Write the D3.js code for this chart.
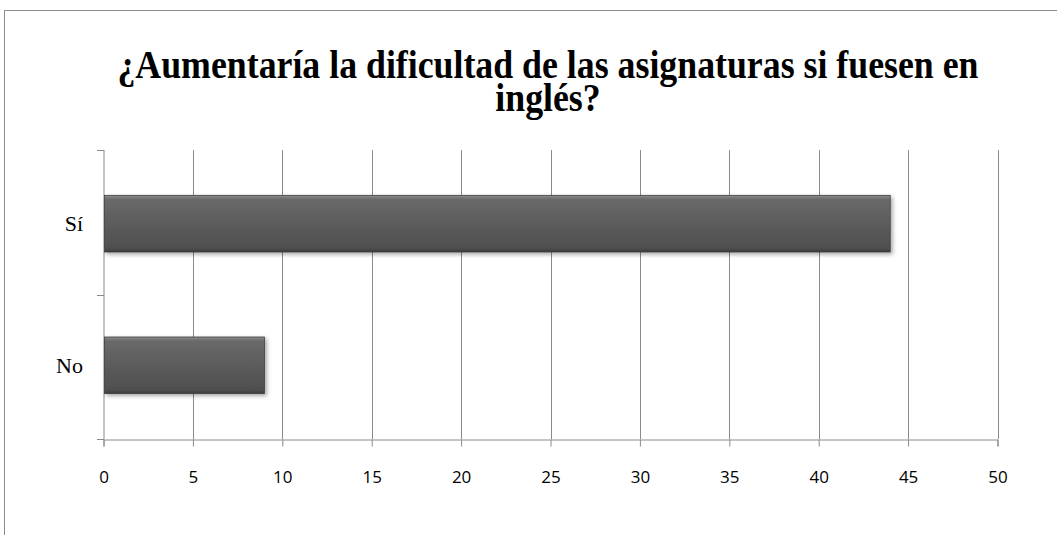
<!DOCTYPE html>
<html><head><meta charset="utf-8">
<script src="https://cdn.jsdelivr.net/npm/d3@7"></script>
<style>html,body{margin:0;padding:0;background:#fff;overflow:hidden}
.title{font-family:'Liberation Serif', serif;font-weight:bold}
.ylab{font-family:'Liberation Serif', serif}
.xlab{font-family:'Open Sans', sans-serif}
</style>
</head><body>
<svg id="chart" width="1057" height="535"></svg>
<script>
const categories = ["Sí", "No"];
const values = [44, 9];
const xTicks = [0, 5, 10, 15, 20, 25, 30, 35, 40, 45, 50];
const titleLines = ["¿Aumentaría la dificultad de las asignaturas si fuesen en", "inglés?"];

const svg = d3.select("#chart");
const W = 1057, H = 535;
const m = {left: 103.5, right: 1057 - 997.5, top: 150, bottom: 535 - 439};

svg.append("path").attr("d", `M4.5,${H} L4.5,10.5 L${W},10.5`).attr("fill","none").attr("stroke","#8c8c8c").attr("stroke-width",1);

const defs = svg.append("defs");
const grad = defs.append("linearGradient").attr("id","barGrad").attr("x1",0).attr("y1",0).attr("x2",0).attr("y2",1);
grad.append("stop").attr("offset","0%").attr("stop-color","#8e8e8e");
grad.append("stop").attr("offset","7%").attr("stop-color","#6a6a6a");
grad.append("stop").attr("offset","50%").attr("stop-color","#5c5c5c");
grad.append("stop").attr("offset","93%").attr("stop-color","#4f4f4f");
grad.append("stop").attr("offset","100%").attr("stop-color","#3a3a3a");
const f = defs.append("filter").attr("id","shadow").attr("x","-5%").attr("y","-20%").attr("width","115%").attr("height","150%");
f.append("feDropShadow").attr("dx",2).attr("dy",2).attr("stdDeviation",2).attr("flood-color","#000").attr("flood-opacity",0.35);

const x = d3.scaleLinear().domain([0, 50]).range([m.left, W - m.right]);
const y = d3.scaleBand().domain(categories).range([m.top, H - m.bottom]).paddingInner(0.6).paddingOuter(0.32);

svg.append("g").selectAll("line").data(xTicks.slice(1)).join("line")
  .attr("x1", d => Math.round(x(d)) + 0.5).attr("x2", d => Math.round(x(d)) + 0.5)
  .attr("y1", m.top).attr("y2", H - m.bottom)
  .attr("stroke", "#8a8a8a").attr("stroke-width", 1);

const xAxis = svg.append("g").attr("transform", `translate(0,${H - m.bottom + 0.5})`)
  .call(d3.axisBottom(x).tickValues(xTicks).tickSize(7).tickPadding(24).tickFormat(d3.format("d")));
xAxis.attr("font-family", null).attr("font-size", null);
xAxis.select(".domain").attr("stroke","#8a8a8a");
xAxis.selectAll(".tick line").attr("stroke","#8a8a8a");
xAxis.selectAll("text").attr("class","xlab").attr("fill","#000").attr("font-size","17px");

const yAxisG = svg.append("g").attr("transform", `translate(${m.left + 0.5},0)`);
yAxisG.append("line").attr("y1", m.top).attr("y2", H - m.bottom).attr("stroke","#8a8a8a");
const bounds = [m.top, (y("Sí") + y.bandwidth() + y("No")) / 2, H - m.bottom];
yAxisG.selectAll("line.tk").data(bounds).join("line").attr("class","tk")
  .attr("x1",-7).attr("x2",0).attr("y1", d => Math.round(d) + 0.5).attr("y2", d => Math.round(d) + 0.5).attr("stroke","#8a8a8a");
yAxisG.selectAll("text").data(categories).join("text").attr("class","ylab")
  .attr("x", -21).attr("y", d => y(d) + y.bandwidth() / 2).attr("dy","0.35em")
  .attr("text-anchor","end").attr("font-size","22px").attr("fill","#000")
  .text(d => d);

svg.append("g").selectAll("rect").data(categories).join("rect")
  .attr("x", x(0) + 1).attr("y", d => y(d))
  .attr("width", (d, i) => x(values[i]) - x(0) - 1).attr("height", y.bandwidth())
  .attr("fill","url(#barGrad)").attr("stroke","#3e3e3e").attr("stroke-width",0.8)
  .attr("filter","url(#shadow)");

const base = 78, sy = 1.12, lineGap = 33;
const t = svg.append("text").attr("class","title").attr("text-anchor","middle").attr("fill","#000").attr("font-size","34px")
  .attr("transform", `translate(0,${base}) scale(1,${sy}) translate(0,${-base})`);
t.selectAll("tspan").data(titleLines).join("tspan").attr("x", 548).attr("y", (d, i) => base + i * lineGap / sy).text(d => d);
const l1 = t.select("tspan").node().getComputedTextLength();
const target = 860;
if (Math.abs(l1 - target) > 8) {
  t.attr("font-size", (34 * target / l1).toFixed(1) + "px");
}
</script>
</body></html>
